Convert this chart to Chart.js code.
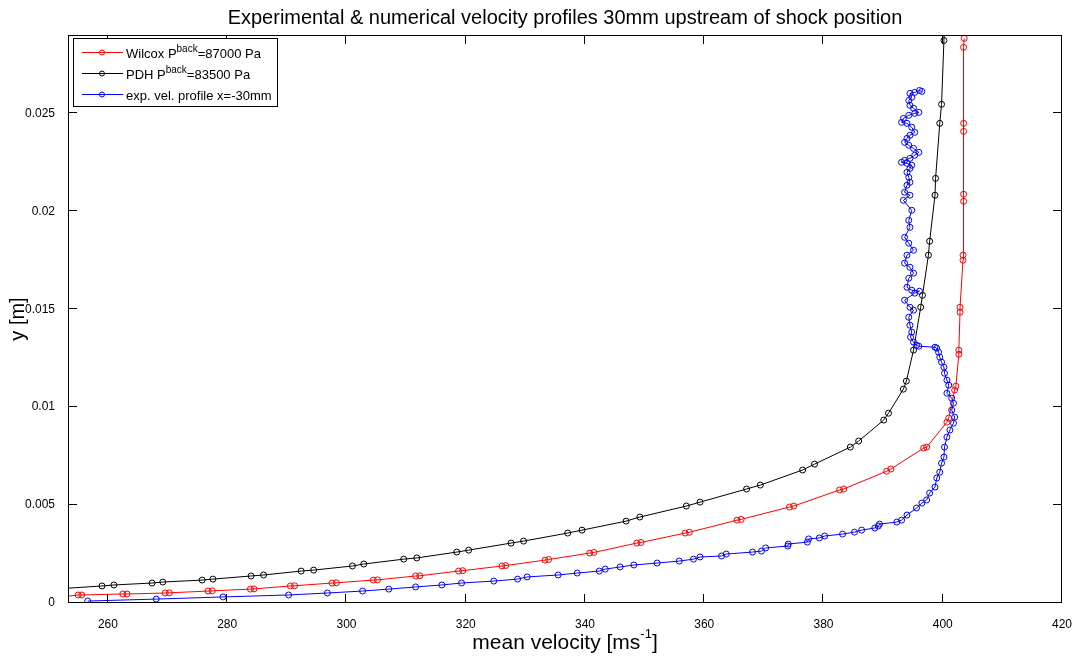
<!DOCTYPE html>
<html lang="en">
<head>
<meta charset="UTF-8">
<title>Velocity profiles 30mm upstream of shock</title>
<script src="https://cdn.jsdelivr.net/npm/chart.js"></script>
<style>
  body { margin: 0; background: #fff; }
</style>
</head>
<body>
<canvas id="profileChart" width="1074" height="660"></canvas>
<script>
// axis ticks
const xTicks = [260, 280, 300, 320, 340, 360, 380, 400, 420];
const xTickLabels = ['260', '280', '300', '320', '340', '360', '380', '400', '420'];
const yTicks = [0, 0.005, 0.01, 0.015, 0.02, 0.025];
const yTickLabels = ['0', '0.005', '0.01', '0.015', '0.02', '0.025'];

// Wilcox, P back = 87000 Pa (velocity m/s, y m)
const redV = [252.0, 255.0, 255.6, 262.5, 263.2, 269.6, 270.3, 276.8, 277.5, 283.9, 284.5, 290.6, 291.3, 297.6, 298.3,
  304.5, 305.2, 311.6, 312.3, 318.8, 319.5, 326.1, 326.7, 333.3, 333.9, 340.8, 341.5, 348.7, 349.4, 356.8, 357.5,
  365.5, 366.2, 374.3, 375.0, 382.7, 383.4, 390.6, 391.3, 396.8, 397.3, 400.7, 401.0, 402.0, 402.2, 402.7, 402.7,
  402.9, 402.9, 403.4, 403.4, 403.5, 403.5, 403.5, 403.5, 403.5, 403.6];
const redY = [0.00030, 0.00041, 0.00041, 0.00046, 0.00046, 0.00051, 0.00052, 0.00061, 0.00062, 0.00071, 0.00072, 0.00087, 0.00088, 0.00102, 0.00103,
  0.00117, 0.00118, 0.00138, 0.00139, 0.00163, 0.00165, 0.00189, 0.00191, 0.00219, 0.00222, 0.00255, 0.00258, 0.00306, 0.00309, 0.00357, 0.00361,
  0.00423, 0.00427, 0.00490, 0.00495, 0.00577, 0.00582, 0.00673, 0.00684, 0.00791, 0.00796, 0.00923, 0.00944, 0.01087, 0.01107, 0.01270, 0.01291,
  0.01485, 0.01510, 0.01750, 0.01776, 0.02051, 0.02087, 0.02408, 0.02449, 0.02837, 0.02883];

// PDH, P back = 83500 Pa
const blackV = [250.0, 259.0, 261.0, 267.4, 269.2, 275.8, 277.6, 284.0, 286.1, 292.4, 294.5, 301.0, 302.9, 309.6, 311.8,
  318.5, 320.5, 327.6, 329.7, 337.1, 339.5, 346.9, 349.2, 357.0, 359.3, 367.1, 369.4, 376.5, 378.5, 384.5, 385.9,
  390.1, 390.9, 393.4, 393.9, 395.1, 396.3, 396.6, 397.6, 397.8, 398.7, 398.8, 399.5, 399.8, 400.2, 400.3];
const blackY = [0.00069, 0.00087, 0.00092, 0.00102, 0.00107, 0.00117, 0.00122, 0.00138, 0.00143, 0.00163, 0.00168, 0.00189, 0.00199, 0.00224, 0.00230,
  0.00260, 0.00270, 0.00306, 0.00316, 0.00357, 0.00372, 0.00418, 0.00439, 0.00495, 0.00515, 0.00582, 0.00602, 0.00679, 0.00709, 0.00796, 0.00827,
  0.00934, 0.00969, 0.01092, 0.01133, 0.01291, 0.01510, 0.01571, 0.01776, 0.01847, 0.02082, 0.02168, 0.02449, 0.02546, 0.02872, 0.02950];

// experimental profile x = -30mm
const blueV = [256.6, 268.1, 279.3, 290.3, 296.8, 302.7, 307.1, 311.6, 316.0, 319.3, 324.7, 328.7, 330.3, 335.5, 338.7,
  342.4, 343.4, 345.9, 348.2, 352.1, 355.8, 358.2, 359.3, 362.9, 363.7, 368.1, 369.6, 370.3, 374.0, 374.1, 377.3,
  377.5, 379.3, 380.2, 383.2, 385.2, 386.4, 388.6, 389.2, 389.4,
  392.3, 393.1, 394.0, 395.6, 396.5, 397.3, 397.8, 398.7, 399.0, 399.5, 399.8, 400.2, 400.3, 400.7, 401.2, 401.8,
  402.0, 401.5, 401.8, 401.5, 400.7, 401.0, 400.7, 400.3, 400.2, 399.8, 399.5, 399.3, 399.0, 398.7,
  396.0, 395.6, 395.1, 394.6, 394.8, 394.5, 394.3, 395.1, 394.5, 393.6, 395.3, 396.1, 394.8, 394.0, 394.3, 395.1,
  394.5, 393.6, 394.0, 395.1, 394.3, 393.6, 394.5, 394.3, 394.8, 393.4,
  394.5, 393.6, 394.0, 394.5, 394.3, 394.0, 394.5, 394.8, 394.0, 393.1, 393.6, 394.5, 395.3, 396.0, 395.1, 394.3,
  393.6, 394.0, 394.5, 395.3, 394.8, 394.0, 393.1, 393.4, 394.3, 395.3, 396.0, 395.1, 394.5, 394.3, 394.8, 394.5,
  395.3, 396.1, 396.5];
const blueY = [0.00010, 0.00020, 0.00031, 0.00041, 0.00051, 0.00061, 0.00071, 0.00082, 0.00092, 0.00102, 0.00112, 0.00122, 0.00133, 0.00143, 0.00153,
  0.00163, 0.00173, 0.00184, 0.00194, 0.00204, 0.00214, 0.00224, 0.00235, 0.00240, 0.00250, 0.00260, 0.00265, 0.00281, 0.00291, 0.00301, 0.00311,
  0.00327, 0.00332, 0.00342, 0.00352, 0.00362, 0.00372, 0.00383, 0.00393, 0.00403,
  0.00413, 0.00423, 0.00449, 0.00485, 0.00510, 0.00526, 0.00561, 0.00592, 0.00638, 0.00668, 0.00714, 0.00745, 0.00796, 0.00847, 0.00883, 0.00918,
  0.00949, 0.00985, 0.01020, 0.01046, 0.01071, 0.01112, 0.01138, 0.01173, 0.01204, 0.01230, 0.01255, 0.01281, 0.01301, 0.01306,
  0.01311, 0.01316, 0.01332, 0.01357, 0.01383, 0.01418, 0.01459, 0.01495, 0.01510, 0.01546, 0.01582, 0.01592, 0.01597, 0.01612, 0.01658, 0.01684,
  0.01714, 0.01735, 0.01776, 0.01801, 0.01837, 0.01867, 0.01918, 0.01954, 0.02005, 0.02056,
  0.02082, 0.02097, 0.02133, 0.02148, 0.02173, 0.02199, 0.02219, 0.02235, 0.02245, 0.02250, 0.02260, 0.02270, 0.02286, 0.02301, 0.02321, 0.02337,
  0.02352, 0.02372, 0.02388, 0.02403, 0.02429, 0.02449, 0.02454, 0.02474, 0.02490, 0.02500, 0.02505, 0.02526, 0.02541, 0.02566, 0.02582, 0.02602,
  0.02607, 0.02617, 0.02612];

// legend text, split round the superscript
const legendPre = ['Wilcox P', 'PDH P', 'exp. vel. profile x=-30mm'];
const legendSup = ['back', 'back', ''];
const legendPost = ['=87000 Pa', '=83500 Pa', ''];
const seriesColors = ['#ff0000', '#000000', '#0000ff'];

const chartTitle = 'Experimental & numerical velocity profiles 30mm upstream of shock position';
const FONT = '"Liberation Sans", Arial, Helvetica, sans-serif';

function toPoints(xs, ys) {
  return xs.map((v, i) => ({ x: v, y: ys[i] }));
}

// matlab-like box, inward ticks on all four sides, title, legend and x label with superscript
const matlabAxes = {
  id: 'matlabAxes',
  afterDraw(chart) {
    const ctx = chart.ctx;
    const { left, right, top, bottom } = chart.chartArea;
    const xs = chart.scales.x, ys = chart.scales.y;
    ctx.save();
    ctx.strokeStyle = '#000';
    ctx.lineWidth = 1;
    ctx.beginPath();
    xTicks.forEach(v => {
      const px = Math.round(xs.getPixelForValue(v)) - 0.5;
      ctx.moveTo(px, bottom); ctx.lineTo(px, bottom - 9);
      ctx.moveTo(px, top); ctx.lineTo(px, top + 9);
    });
    yTicks.forEach(v => {
      const py = Math.round(ys.getPixelForValue(v)) - 0.5;
      ctx.moveTo(left, py); ctx.lineTo(left + 9, py);
      ctx.moveTo(right, py); ctx.lineTo(right - 9, py);
    });
    ctx.stroke();
    ctx.strokeRect(left + 0.5, top + 0.5, right - left - 1, bottom - top - 1);

    // title, centred over the axes
    ctx.fillStyle = '#000';
    ctx.textAlign = 'center';
    ctx.textBaseline = 'alphabetic';
    ctx.font = '20px ' + FONT;
    ctx.fillText(chartTitle, (left + right) / 2, 24);

    // legend
    const lx = 73.5, ly = 38.5, lw = 204, lh = 68;
    ctx.textAlign = 'left';
    ctx.fillStyle = '#fff';
    ctx.fillRect(lx, ly, lw, lh);
    ctx.strokeRect(lx, ly, lw, lh);
    legendPre.forEach((pre, i) => {
      const y = 52.5 + i * 21;
      ctx.strokeStyle = seriesColors[i];
      ctx.beginPath();
      ctx.moveTo(82, y); ctx.lineTo(123, y);
      ctx.stroke();
      ctx.beginPath();
      ctx.arc(102, y, 2.5, 0, Math.PI * 2);
      ctx.stroke();
      ctx.fillStyle = '#000';
      let tx = 126;
      ctx.font = '13px ' + FONT;
      ctx.fillText(pre, tx, y + 5);
      tx += ctx.measureText(pre).width;
      if (legendSup[i]) {
        ctx.font = '10px ' + FONT;
        ctx.fillText(legendSup[i], tx, y - 1);
        tx += ctx.measureText(legendSup[i]).width;
      }
      if (legendPost[i]) {
        ctx.font = '13px ' + FONT;
        ctx.fillText(legendPost[i], tx, y + 5);
      }
    });

    // x axis label: mean velocity [ms^-1]
    const main1 = 'mean velocity [ms', sup = '-1', main2 = ']';
    ctx.fillStyle = '#000';
    ctx.font = '21px ' + FONT;
    const w1 = ctx.measureText(main1).width, w3 = ctx.measureText(main2).width;
    ctx.font = '13px ' + FONT;
    const w2 = ctx.measureText(sup).width;
    let tx = (left + right) / 2 - (w1 + w2 + w3) / 2;
    const base = 649;
    ctx.font = '21px ' + FONT;
    ctx.fillText(main1, tx, base);
    ctx.font = '13px ' + FONT;
    ctx.fillText(sup, tx + w1, base - 11);
    ctx.font = '21px ' + FONT;
    ctx.fillText(main2, tx + w1 + w2, base);
    ctx.restore();
  }
};

const lineSet = (pts, color, order) => ({
  data: pts,
  showLine: true,
  borderColor: color,
  borderWidth: 1,
  backgroundColor: 'rgba(0,0,0,0)',
  pointBorderColor: color,
  pointBackgroundColor: 'rgba(0,0,0,0)',
  pointRadius: 3,
  pointBorderWidth: 1,
  pointHoverRadius: 3,
  order: order
});

new Chart(document.getElementById('profileChart'), {
  type: 'scatter',
  data: {
    datasets: [
      lineSet(toPoints(redV, redY), seriesColors[0], 2),
      lineSet(toPoints(blackV, blackY), seriesColors[1], 1),
      lineSet(toPoints(blueV, blueY), seriesColors[2], 0)
    ]
  },
  options: {
    responsive: false,
    animation: false,
    events: [],
    layout: { padding: { left: 0, right: 12, top: 35, bottom: 0 } },
    plugins: {
      legend: { display: false },
      tooltip: { enabled: false },
      title: { display: false }
    },
    scales: {
      x: {
        type: 'linear',
        min: 253.3,
        max: 420,
        afterBuildTicks: s => { s.ticks = xTicks.map(v => ({ value: v })); },
        afterFit: s => { s.height = 57; s.paddingLeft = 0; s.paddingRight = 0; },
        ticks: {
          callback: (v, i) => xTickLabels[i],
          color: '#000',
          font: { family: FONT, size: 12 },
          padding: 6,
          maxRotation: 0,
          autoSkip: false
        },
        grid: { display: false },
        border: { display: false }
      },
      y: {
        type: 'linear',
        min: 0,
        max: 0.029,
        afterBuildTicks: s => { s.ticks = yTicks.map(v => ({ value: v })); },
        afterFit: s => { s.width = 68; s.paddingTop = 0; s.paddingBottom = 0; },
        ticks: {
          callback: (v, i) => yTickLabels[i],
          color: '#000',
          font: { family: FONT, size: 12 },
          padding: 5,
          autoSkip: false
        },
        grid: { display: false },
        border: { display: false },
        title: {
          display: true,
          text: 'y [m]',
          color: '#000',
          font: { family: FONT, size: 20 },
          padding: { top: 6, bottom: 0 }
        }
      }
    }
  },
  plugins: [matlabAxes]
});
</script>
</body>
</html>
